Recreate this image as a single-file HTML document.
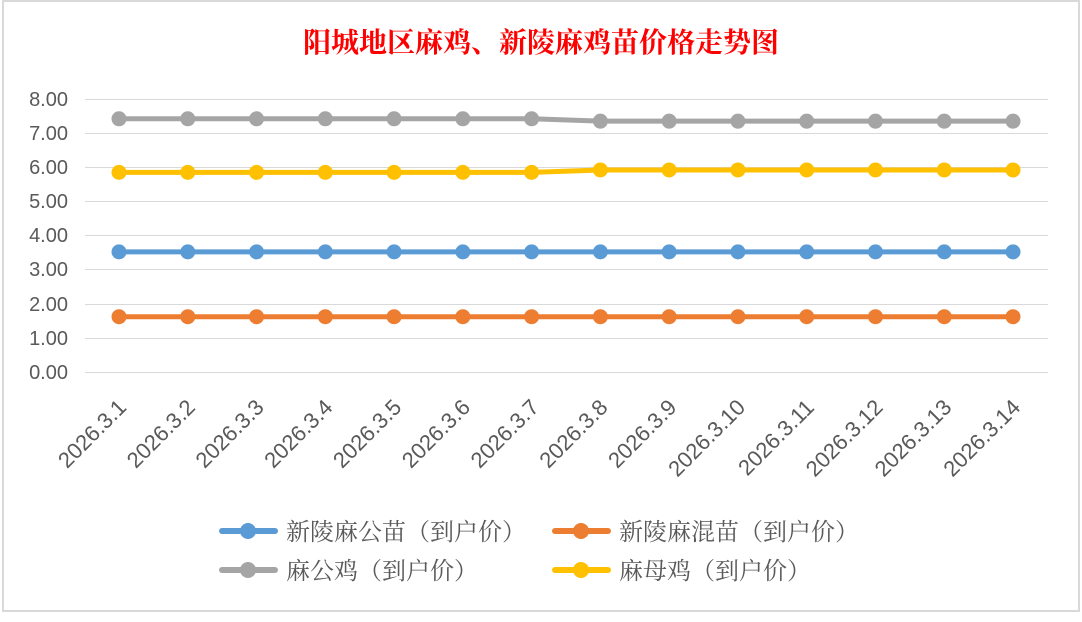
<!DOCTYPE html>
<html><head><meta charset="utf-8"><style>body{margin:0;background:#fff}</style></head><body>
<svg width="1082" height="617" xmlns="http://www.w3.org/2000/svg">
<rect x="0" y="0" width="1082" height="617" fill="#fff"/>
<rect x="3" y="1" width="1076" height="610" fill="#fff" stroke="#d9d9d9" stroke-width="2"/>
<text x="541" y="52" text-anchor="middle" fill="#ff0000" font-size="28" font-weight="bold" font-family="'Noto Serif CJK SC','Liberation Serif',serif">阳城地区麻鸡、新陵麻鸡苗价格走势图</text>
<g stroke="#d9d9d9" stroke-width="1">
<line x1="85" x2="1048" y1="99.5" y2="99.5"/><line x1="85" x2="1048" y1="133.5" y2="133.5"/>
<line x1="85" x2="1048" y1="167.5" y2="167.5"/><line x1="85" x2="1048" y1="201.5" y2="201.5"/>
<line x1="85" x2="1048" y1="235.5" y2="235.5"/><line x1="85" x2="1048" y1="269.5" y2="269.5"/>
<line x1="85" x2="1048" y1="304.5" y2="304.5"/><line x1="85" x2="1048" y1="338.5" y2="338.5"/>
<line x1="85" x2="1048" y1="372.5" y2="372.5"/>
</g>
<g font-family="'Liberation Sans',sans-serif" font-size="20" fill="#595959" text-anchor="end">
<text x="68" y="106">8.00</text><text x="68" y="140">7.00</text><text x="68" y="174">6.00</text>
<text x="68" y="208">5.00</text><text x="68" y="242">4.00</text><text x="68" y="276">3.00</text>
<text x="68" y="311">2.00</text><text x="68" y="345">1.00</text><text x="68" y="379">0.00</text>
</g>
<g font-family="'Liberation Sans',sans-serif" font-size="22" fill="#595959" text-anchor="end" id="xl"></g>
<g id="series"></g>
<g font-family="'Noto Serif CJK SC','Liberation Serif',serif" font-size="24" fill="#595959">
<line x1="222" x2="275" y1="531" y2="531" stroke="#5b9bd5" stroke-width="6" stroke-linecap="round"/><circle cx="248" cy="531" r="8" fill="#5b9bd5"/>
<text x="286" y="540">新陵麻公苗（到户价）</text>
<line x1="555" x2="608" y1="531" y2="531" stroke="#ed7d31" stroke-width="6" stroke-linecap="round"/><circle cx="581" cy="531" r="8" fill="#ed7d31"/>
<text x="619" y="540">新陵麻混苗（到户价）</text>
<line x1="222" x2="275" y1="570" y2="570" stroke="#a5a5a5" stroke-width="6" stroke-linecap="round"/><circle cx="248" cy="570" r="8" fill="#a5a5a5"/>
<text x="286" y="579">麻公鸡（到户价）</text>
<line x1="555" x2="608" y1="570" y2="570" stroke="#ffc000" stroke-width="6" stroke-linecap="round"/><circle cx="581" cy="570" r="8" fill="#ffc000"/>
<text x="619" y="579">麻母鸡（到户价）</text>
</g>
</svg>
<script>
var ns="http://www.w3.org/2000/svg",xl=document.getElementById('xl'),sg=document.getElementById('series');
function X(i){return 119+i*68.77}function Y(v){return 372-v*34.125}
for(var i=0;i<14;i++){var t=document.createElementNS(ns,'text');var x=X(i)+3,y=403;
t.setAttribute('transform','translate('+x+','+y+') rotate(-45)');t.setAttribute('x',0);t.setAttribute('y',8);t.textContent='2026.3.'+(i+1);xl.appendChild(t);}
var S=[["#a5a5a5",function(i){return i<7?7.42:7.35}],["#ffc000",function(i){return i<7?5.85:5.92}],["#5b9bd5",function(){return 3.52}],["#ed7d31",function(){return 1.62}]];
S.forEach(function(s){var p=[];for(var i=0;i<14;i++)p.push(X(i)+','+Y(s[1](i)));
var l=document.createElementNS(ns,'polyline');l.setAttribute('points',p.join(' '));l.setAttribute('fill','none');l.setAttribute('stroke',s[0]);l.setAttribute('stroke-width',5);l.setAttribute('stroke-linejoin','round');sg.appendChild(l);
for(var i=0;i<14;i++){var c=document.createElementNS(ns,'circle');c.setAttribute('cx',X(i));c.setAttribute('cy',Y(s[1](i)));c.setAttribute('r',7.5);c.setAttribute('fill',s[0]);sg.appendChild(c);}});
</script>
</body></html>
